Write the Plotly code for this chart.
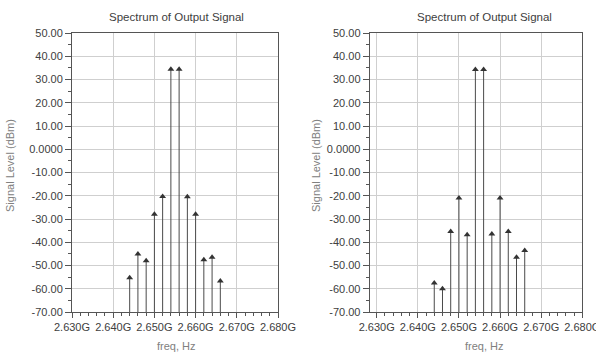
import plotly.graph_objects as go

freq_hz = [2.644e9, 2.646e9, 2.648e9, 2.650e9, 2.652e9, 2.654e9,
           2.656e9, 2.658e9, 2.660e9, 2.662e9, 2.664e9, 2.666e9]
level_left = [-55.3, -45.0, -48.0, -28.0, -20.3, 34.4, 34.4, -20.4, -28.0, -47.5, -46.4, -56.7]
level_right = [-57.5, -60.0, -35.4, -21.0, -36.8, 34.3, 34.3, -36.5, -21.0, -35.4, -46.5, -43.6]

x_tickvals = [2.630e9, 2.640e9, 2.650e9, 2.660e9, 2.670e9, 2.680e9]
x_ticktext = ["2.630G", "2.640G", "2.650G", "2.660G", "2.670G", "2.680G"]
y_tickvals = [50, 40, 30, 20, 10, 0, -10, -20, -30, -40, -50, -60, -70]
y_ticktext = ["50.00", "40.00", "30.00", "20.00", "10.00", "0.0000", "-10.00",
              "-20.00", "-30.00", "-40.00", "-50.00", "-60.00", "-70.00"]
title_text = "Spectrum of Output Signal"
x_title = "freq, Hz"
y_title = "Signal Level (dBm)"
y_floor = -70

W, H = 596, 354
FONT = "Liberation Sans, Arial, sans-serif"
STEM = "#4a4a4a"
MARK = "#333333"

fig = go.Figure()

def add_panel(levels, xa, ya):
    sx, sy = [], []
    for f, v in zip(freq_hz, levels):
        sx += [f, f, None]
        sy += [y_floor, v, None]
    fig.add_trace(go.Scatter(x=sx, y=sy, mode="lines", line=dict(color=STEM, width=1),
                             xaxis=xa, yaxis=ya, showlegend=False, hoverinfo="skip"))
    fig.add_trace(go.Scatter(x=freq_hz, y=levels, mode="markers",
                             marker=dict(symbol="triangle-up", size=6, color=MARK),
                             xaxis=xa, yaxis=ya, showlegend=False))

add_panel(level_left, "x", "y")
add_panel(level_right, "x2", "y2")

ydom = [(H - 312) / H, (H - 33) / H]
left_dom = [72 / W, 278 / W]
right_dom = [369.7 / W, 582.3 / W]

def xaxis(dom, rng, anchor):
    return dict(domain=dom, range=rng, anchor=anchor, automargin=False,
                tickvals=x_tickvals, ticktext=x_ticktext, ticklabeloverflow="allow",
                tickfont=dict(family=FONT, size=11, color="#404040"),
                showgrid=True, gridcolor="#cfcfcf", gridwidth=1,
                showline=True, linecolor="#555555", linewidth=1, mirror=True,
                ticks="outside", ticklen=5, tickcolor="#555555",
                minor=dict(dtick=2e6, tick0=2.630e9, ticks="outside", ticklen=3,
                           tickcolor="#555555", showgrid=False),
                zeroline=False, fixedrange=True)

def yaxis(dom, anchor):
    return dict(domain=dom, range=[-70, 50], anchor=anchor, automargin=False,
                tickvals=y_tickvals, ticktext=y_ticktext, ticklabeloverflow="allow",
                tickfont=dict(family=FONT, size=11, color="#404040"),
                showgrid=True, gridcolor="#cfcfcf", gridwidth=1,
                showline=True, linecolor="#555555", linewidth=1, mirror=True,
                ticks="outside", ticklen=6, tickcolor="#555555",
                minor=dict(dtick=5, ticks="outside", ticklen=3, tickcolor="#555555",
                           showgrid=False),
                zeroline=False, fixedrange=True)

fig.update_layout(
    width=W, height=H, margin=dict(l=0, r=0, t=0, b=0, autoexpand=False),
    paper_bgcolor="white", plot_bgcolor="white",
    xaxis=xaxis(left_dom, [2.630e9, 2.680e9], "y"), yaxis=yaxis(ydom, "x"),
    xaxis2=xaxis(right_dom, [2.6283e9, 2.680e9], "y2"), yaxis2=yaxis(ydom, "x2"),
    font=dict(family=FONT, size=11, color="#404040"),
)

annots = []
for cx, ylab_x in [(176 / W, 10 / W), (484 / W, 316 / W)]:
    annots.append(dict(text=title_text, x=cx, y=1 - 17 / H, xref="paper", yref="paper",
                       showarrow=False, font=dict(family=FONT, size=11.5, color="#404040"),
                       xanchor="center", yanchor="middle"))
    annots.append(dict(text=x_title, x=cx, y=1 - 346 / H, xref="paper", yref="paper",
                       showarrow=False, font=dict(family=FONT, size=11, color="#808080"),
                       xanchor="center", yanchor="middle"))
    annots.append(dict(text=y_title, x=ylab_x, y=1 - 166 / H, xref="paper", yref="paper",
                       showarrow=False, textangle=-90,
                       font=dict(family=FONT, size=11, color="#808080"),
                       xanchor="center", yanchor="middle"))
fig.update_layout(annotations=annots)

fig.write_html("out.html")
